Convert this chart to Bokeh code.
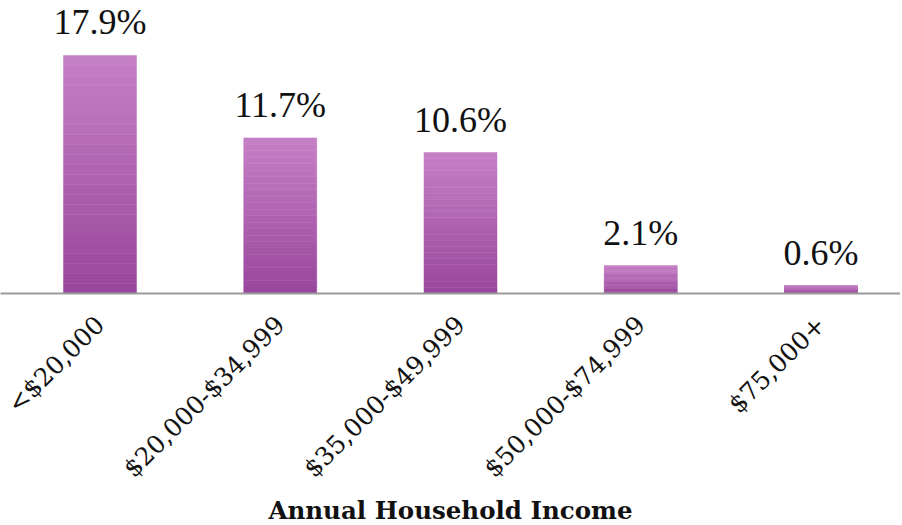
from bokeh.plotting import figure
from bokeh.models import Range1d, ColumnDataSource, LabelSet, FixedTicker
from bokeh.embed import file_html
from bokeh.resources import INLINE
from math import pi

categories = ["<$20,000", "$20,000-$34,999", "$35,000-$49,999", "$50,000-$74,999", "$75,000+"]
values = [17.9, 11.7, 10.6, 2.1, 0.6]
value_labels = ["17.9%", "11.7%", "10.6%", "2.1%", "0.6%"]
axis_title = "Annual Household Income"

FONT = "DejaVu Serif"
xs = list(range(len(categories)))

FW = 900
p = figure(frame_width=FW, frame_height=293, output_backend="svg", toolbar_location=None,
           x_range=Range1d(-0.552, -0.552 + FW / 180.25), y_range=Range1d(0, 293 / 13.3),
           min_border_left=0, min_border_right=0, min_border_top=0, min_border_bottom=0)
p.outline_line_color = None
p.grid.grid_line_color = None
p.yaxis.visible = False
p.background_fill_color = "white"
p.border_fill_color = "white"

# vertical gradient bars (light top, dark bottom)
N = 24
c0 = (0x98, 0x46, 0x9c)
c1 = (0xc6, 0x80, 0xc6)
for k in range(N):
    t = (k + 0.5) / N
    col = "#%02x%02x%02x" % tuple(int(round(a + (b - a) * t)) for a, b in zip(c0, c1))
    src = ColumnDataSource(dict(x=xs,
                                bottom=[v * k / N for v in values],
                                top=[v * (k + 1) / N for v in values]))
    p.vbar(x="x", bottom="bottom", top="top", width=0.405, source=src,
           fill_color=col, line_color=col, line_width=0.5)

lab_src = ColumnDataSource(dict(x=xs, y=values, t=value_labels))
labels = LabelSet(x="x", y="y", text="t", source=lab_src, text_align="center",
                  text_baseline="bottom", y_offset=13, text_font=FONT,
                  text_font_size="36px", text_color="#111111")
p.add_layout(labels)

p.xaxis.ticker = FixedTicker(ticks=xs)
p.xaxis.major_label_overrides = {i: c for i, c in zip(xs, categories)}
p.xaxis.major_label_orientation = pi / 4
p.xaxis.major_label_text_font = FONT
p.xaxis.major_label_text_font_size = "25px"
p.xaxis.major_label_text_color = "#111111"
p.xaxis.major_label_standoff = 21
p.xaxis.major_tick_line_color = None
p.xaxis.minor_tick_line_color = None
p.xaxis.axis_line_color = "#9a9a9a"
p.xaxis.axis_line_width = 2
p.xaxis.axis_label = axis_title
p.xaxis.axis_label_text_font = FONT
p.xaxis.axis_label_text_font_style = "bold"
p.xaxis.axis_label_text_font_size = "24.5px"
p.xaxis.axis_label_text_color = "#111111"
p.xaxis.axis_label_standoff = 0

open("out.html", "w").write(file_html(p, INLINE))
